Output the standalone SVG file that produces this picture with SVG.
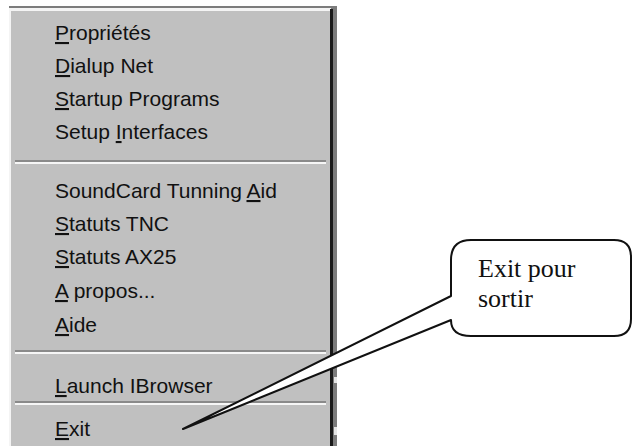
<svg xmlns="http://www.w3.org/2000/svg" width="632" height="446" viewBox="0 0 632 446">
<style>
.item{font-family:"Liberation Sans",Arial,sans-serif;font-size:21px;fill:#111}
.u{text-decoration:underline}
.sepd{fill:#8a8a8a}
.sepl{fill:#f6f6f6}
.note{font-family:"Liberation Serif","Times New Roman",serif;font-size:26px;fill:#111}
</style>
<rect width="632" height="446" fill="#ffffff"/>
<g id="menu">
<rect x="9" y="6" width="328" height="440" fill="#7c7c7c"/>
<rect x="9" y="8" width="322" height="438" fill="#f4f4f4"/>
<rect x="11" y="11" width="319" height="435" fill="#c0c0c0"/>
<rect x="330" y="9" width="3" height="437" fill="#1a1a1a"/>
<rect x="334" y="377" width="3" height="6" fill="#e6e6e6"/>
<rect x="334" y="427" width="3" height="8" fill="#e6e6e6"/>
<rect class="sepd" x="15" y="160" width="311" height="2"/>
<rect class="sepl" x="15" y="162" width="311" height="2"/>
<rect class="sepd" x="15" y="350" width="311" height="2"/>
<rect class="sepl" x="15" y="352" width="311" height="2"/>
<rect class="sepd" x="15" y="401" width="311" height="2"/>
<rect class="sepl" x="15" y="403" width="311" height="2"/>
<text class="item" x="55" y="40"><tspan class="u">P</tspan>ropriétés</text>
<text class="item" x="55" y="73"><tspan class="u">D</tspan>ialup Net</text>
<text class="item" x="55" y="106"><tspan class="u">S</tspan>tartup Programs</text>
<text class="item" x="55" y="139">Setup <tspan class="u">I</tspan>nterfaces</text>
<text class="item" x="55" y="198">SoundCard Tunning <tspan class="u">A</tspan>id</text>
<text class="item" x="55" y="231"><tspan class="u">S</tspan>tatuts TNC</text>
<text class="item" x="55" y="264"><tspan class="u">S</tspan>tatuts AX25</text>
<text class="item" x="55" y="298"><tspan class="u">A</tspan> propos...</text>
<text class="item" x="55" y="332"><tspan class="u">A</tspan>ide</text>
<text class="item" x="55" y="393"><tspan class="u">L</tspan>aunch IBrowser</text>
<text class="item" x="55" y="436"><tspan class="u">E</tspan>xit</text>
</g>
<g id="callout">
<path d="M471,240 H614 Q631,240 631,257 V319 Q631,336 614,336 H471 Q451,336 451,320 L183,429 L451,296 V260 Q451,240 471,240 Z" fill="#ffffff" stroke="#111" stroke-width="2" stroke-linejoin="round"/>
<text class="note" x="478" y="277">Exit pour</text>
<text class="note" x="478" y="307">sortir</text>
</g>
</svg>
